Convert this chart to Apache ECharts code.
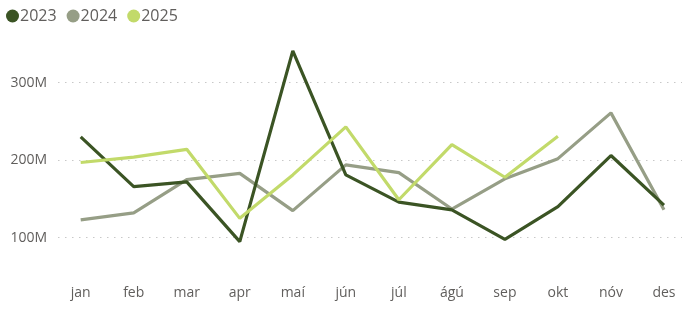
<!DOCTYPE html>
<html>
<head>
<meta charset="utf-8">
<script src="https://cdn.jsdelivr.net/npm/echarts@6/dist/echarts.min.js"></script>
<style>
html,body{margin:0;padding:0;background:#fff;}
#c{width:686px;height:309px;}
</style>
</head>
<body>
<div id="c"></div>
<script>
const months = ['jan','feb','mar','apr','maí','jún','júl','ágú','sep','okt','nóv','des'];
const s2023 = [230, 166, 172, 95, 341, 181, 146, 136, 98, 140, 206, 142];
const s2024 = [123, 132, 175, 183, 135, 194, 184, 137, 176, 202, 261, 136];
const s2025 = [197, 204, 214, 125, 181, 243, 149, 220, 178, 231];
const yTicks = [100, 200, 300];
const seriesNames = ['2023', '2024', '2025'];

const font = '"Segoe UI", "Open Sans", "Noto Sans", sans-serif';
const toPts = arr => arr.map((v, i) => [i, v * 1e6]);
const colors = ['#3b5424', '#969e86', '#c2da6a'];

const chart = echarts.init(document.getElementById('c'), null, {renderer: 'canvas'});
chart.setOption({
  animation: false,
  color: colors,
  textStyle: {fontFamily: font},
  legend: {
    left: 1, top: 3,
    icon: 'circle',
    itemWidth: 13, itemHeight: 13, itemGap: 10,
    textStyle: {fontSize: 16, color: '#605e5c', fontFamily: font, padding: [0, 0, 0, -4]},
    data: seriesNames
  },
  grid: {left: 58, right: 4, top: 40, height: 221},
  xAxis: {
    type: 'value',
    min: -0.428, max: 11.34,
    axisLine: {show: false}, axisTick: {show: false, customValues: months.map((m, i) => i)},
    splitLine: {show: false},
    axisLabel: {
      customValues: months.map((m, i) => i),
      formatter: v => months[Math.round(v)],
      color: '#605e5c', fontSize: 14, margin: 25, fontFamily: font
    }
  },
  yAxis: {
    type: 'value',
    min: 70e6, max: 355e6,
    axisLine: {show: false},
    axisTick: {show: false, customValues: yTicks.map(v => v * 1e6)},
    axisLabel: {
      customValues: yTicks.map(v => v * 1e6),
      formatter: v => (v / 1e6) + 'M',
      color: '#605e5c', fontSize: 14, margin: 11, fontFamily: font
    },
    splitLine: {show: true, customValues: yTicks.map(v => v * 1e6), lineStyle: {color: '#c8c8c8', type: [1.5, 5.5], width: 1}}
  },
  series: [
    {name: seriesNames[0], type: 'line', data: toPts(s2023), symbol: 'none', lineStyle: {width: 3.2}, z: 3},
    {name: seriesNames[1], type: 'line', data: toPts(s2024), symbol: 'none', lineStyle: {width: 3.2}, z: 2},
    {name: seriesNames[2], type: 'line', data: toPts(s2025), symbol: 'none', lineStyle: {width: 3.2}, z: 4}
  ]
});
</script>
</body>
</html>
